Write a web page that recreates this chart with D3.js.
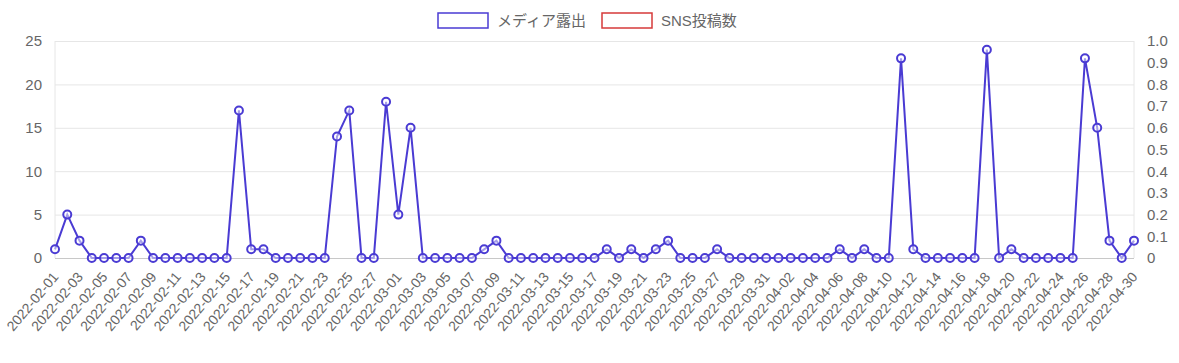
<!DOCTYPE html>
<html>
<head>
<meta charset="utf-8">
<script src="https://cdn.jsdelivr.net/npm/d3@7"></script>
<style>
  body { margin: 0; background: #fff; }
  svg { display: block; font-family: "Liberation Sans", Arial, "Noto Sans CJK JP", sans-serif; }
  .tick text { fill: #666; }
</style>
</head>
<body>
<div id="chart"></div>
<script>
// Dates 2022-02-01 .. 2022-04-30
const dates = d3.timeDay.range(new Date(2022, 1, 1), new Date(2022, 4, 1)).map(d3.timeFormat('%Y-%m-%d'));

// Media exposure per day (left axis)
const mediaFeb = [1, 5, 2, 0, 0, 0, 0, 2, 0, 0, 0, 0, 0, 0, 0, 17, 1, 1, 0, 0, 0, 0, 0, 14, 17, 0, 0, 18];
const mediaMar = [5, 15, 0, 0, 0, 0, 0, 1, 2, 0, 0, 0, 0, 0, 0, 0, 0, 1, 0, 1, 0, 1, 2, 0, 0, 0, 1, 0, 0, 0, 0];
const mediaApr = [0, 0, 0, 0, 0, 1, 0, 1, 0, 0, 23, 1, 0, 0, 0, 0, 0, 24, 0, 1, 0, 0, 0, 0, 0, 23, 15, 2, 0, 2];
const mediaValues = mediaFeb.concat(mediaMar, mediaApr);
// SNS posts (right axis) - no values plotted
const snsValues = [];

const leftTicks = [0, 5, 10, 15, 20, 25];
const rightTicks = [0, 0.1, 0.2, 0.3, 0.4, 0.5, 0.6, 0.7, 0.8, 0.9, 1.0];
const seriesNames = ['メディア露出', 'SNS投稿数'];
const seriesColors = ['#4a3bd3', '#d63a3a'];

const width = 1179, height = 363;
const margin = { top: 41, right: 45, bottom: 105, left: 55 };
const plotW = width - margin.left - margin.right;
const plotH = height - margin.top - margin.bottom;

const svg = d3.select('#chart').append('svg')
    .attr('width', width)
    .attr('height', height);

const x = d3.scalePoint().domain(dates).range([margin.left, margin.left + plotW]).padding(0);
const yLeft = d3.scaleLinear().domain([0, 25]).range([margin.top + plotH, margin.top]);
const yRight = d3.scaleLinear().domain([0, 1]).range([margin.top + plotH, margin.top]);

// Horizontal grid
svg.append('g')
    .attr('transform', `translate(${margin.left},0)`)
    .call(d3.axisLeft(yLeft).tickValues(leftTicks).tickSize(-plotW).tickFormat(''))
    .call(g => g.select('.domain').remove())
    .call(g => g.selectAll('line').attr('stroke', (d) => d === 0 ? '#c8c8c8' : '#e6e6e6'));

// Border lines left/right
[margin.left, margin.left + plotW].forEach(xp => {
    svg.append('line')
        .attr('x1', xp).attr('x2', xp)
        .attr('y1', margin.top).attr('y2', margin.top + plotH)
        .attr('stroke', '#e6e6e6');
});

// Left axis labels
svg.append('g')
    .attr('transform', `translate(${margin.left - 10},0)`)
    .call(d3.axisLeft(yLeft).tickValues(leftTicks).tickSize(0))
    .call(g => g.select('.domain').remove())
    .call(g => g.selectAll('text').style('font-size', '15px'));

// Right axis labels
svg.append('g')
    .attr('transform', `translate(${margin.left + plotW + 10},0)`)
    .call(d3.axisRight(yRight).tickValues(rightTicks).tickSize(0)
        .tickFormat(d => d === 0 ? '0' : d3.format('.1f')(d)))
    .call(g => g.select('.domain').remove())
    .call(g => g.selectAll('text').style('font-size', '15px'));

// Bottom axis: every other date
svg.append('g')
    .attr('transform', `translate(0,${margin.top + plotH})`)
    .call(d3.axisBottom(x).tickValues(dates.filter((d, i) => i % 2 === 0)).tickSize(0))
    .call(g => g.select('.domain').remove())
    .call(g => g.selectAll('text')
        .style('font-size', '14px')
        .attr('text-anchor', 'end')
        .attr('y', 0)
        .attr('dy', '0.35em')
        .attr('transform', 'translate(0,16) rotate(-50)'));

// Media line
const line = d3.line()
    .x((d, i) => x(dates[i]))
    .y(d => yLeft(d));

svg.append('path')
    .datum(mediaValues)
    .attr('d', line)
    .attr('fill', 'none')
    .attr('stroke', seriesColors[0])
    .attr('stroke-width', 2);

svg.append('g').selectAll('circle')
    .data(mediaValues)
    .join('circle')
    .attr('cx', (d, i) => x(dates[i]))
    .attr('cy', d => yLeft(d))
    .attr('r', 4)
    .attr('fill', 'rgba(255,255,255,0.5)')
    .attr('stroke', seriesColors[0])
    .attr('stroke-width', 2);

// SNS line (empty)
svg.append('path')
    .datum(snsValues)
    .attr('d', d3.line().x((d, i) => x(dates[i])).y(d => yRight(d)))
    .attr('fill', 'none')
    .attr('stroke', seriesColors[1])
    .attr('stroke-width', 2);

// Legend
const legendX = [438, 602];
const legend = svg.append('g');
seriesNames.forEach((name, i) => {
    legend.append('rect')
        .attr('x', legendX[i]).attr('y', 13)
        .attr('width', 50).attr('height', 15)
        .attr('fill', '#fff')
        .attr('stroke', seriesColors[i])
        .attr('stroke-width', 1.5);
    legend.append('text')
        .attr('x', legendX[i] + 59).attr('y', 21)
        .attr('dy', '0.35em')
        .style('font-size', '15px')
        .style('fill', '#666')
        .text(name);
});
</script>
</body>
</html>
